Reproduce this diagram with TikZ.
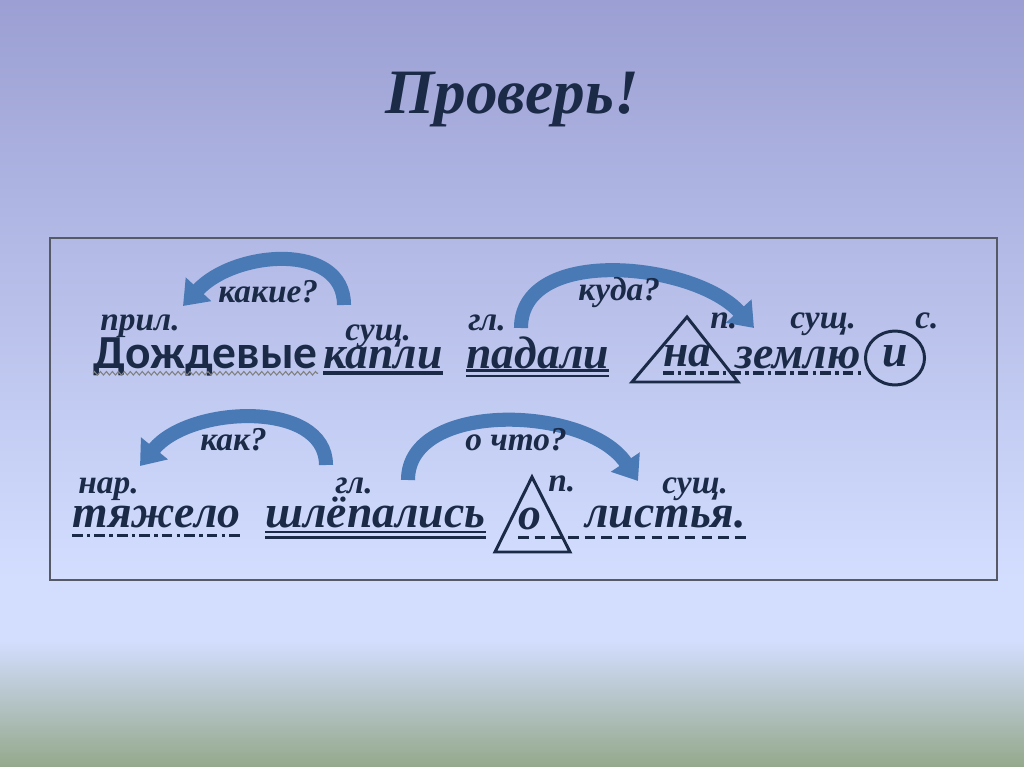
\documentclass[tikz,border=0pt]{standalone}
\usepackage{fontspec}
\setmainfont{Liberation Serif}
\newfontfamily\wordsans{Carlito}
\usepackage{xcolor}
\definecolor{colorInk}{HTML}{1B2A47}
\definecolor{colorArrow}{HTML}{4A7AB5}
\definecolor{colorFrame}{HTML}{555A66}
\definecolor{bgTop}{HTML}{9B9FD3}
\definecolor{bgMid}{HTML}{D3DEFF}
\definecolor{bgLow}{HTML}{94A98B}
\usepackage{tikz}
\usetikzlibrary{arrows.meta, positioning, decorations.pathmorphing}
\tikzset{
  word/.style={font=\fontsize{26}{30}\selectfont\bfseries\itshape, text=colorInk, inner sep=0pt, anchor=base west},
  part/.style={font=\fontsize{19}{22}\selectfont\bfseries\itshape, text=colorInk, inner sep=0pt, anchor=base west},
  quest/.style={part},
  bendArrow/.style={draw=colorArrow, line width=8pt, -{Triangle[width=19pt, length=13pt]}},
  lineSolid/.style={draw=colorInk, line width=2.2pt},
  lineDouble/.style={draw=colorInk, line width=1.3pt},
  lineDashDot/.style={draw=colorInk, line width=1.8pt, dash pattern=on 6pt off 2.5pt on 1.8pt off 2.5pt},
  lineDash/.style={draw=colorInk, line width=1.8pt, dash pattern=on 6pt off 3.5pt},
  lineWavy/.style={draw=gray, line width=0.6pt, decorate, decoration={zigzag, amplitude=1pt, segment length=3.4pt}},
  markLine/.style={draw=colorInk, line width=1.7pt}
}

\begin{document}
\begin{tikzpicture}[x=0.02cm, y=0.02cm]
\useasboundingbox (0,0) rectangle (1024,-767);
\shade[top color=bgTop, bottom color=bgMid] (0,0) rectangle (1024,-580);
\fill[bgMid] (0,-580) rectangle (1024,-640);
\shade[top color=bgMid, bottom color=bgLow] (0,-640) rectangle (1024,-767);
\draw[colorFrame, line width=1.1pt] (50,-238) rectangle (997,-580);
\node[font=\fontsize{36}{40}\selectfont\bfseries\itshape, text=colorInk] (title) at (512,-100) {Проверь!};

\coordinate (a1s) at (344,-305);
\coordinate (a1e) at (183,-306);
\coordinate (a2s) at (521,-328);
\coordinate (a2e) at (754,-328);
\coordinate (a3s) at (326,-465);
\coordinate (a3e) at (140,-466);
\coordinate (a4s) at (408,-480);
\coordinate (a4e) at (638,-481);
\draw[bendArrow] (a1s) .. controls (344,-242) and (235,-250) .. (a1e);
\draw[bendArrow] (a2s) .. controls (521,-245) and (694,-262) .. (a2e);
\draw[bendArrow] (a3s) .. controls (326,-400) and (190,-405) .. (a3e);
\draw[bendArrow] (a4s) .. controls (408,-400) and (587,-405) .. (a4e);

\node[word, font=\fontsize{27}{30}\selectfont\wordsans\bfseries] (w1) at (93,-368) {Дождевые};
\node[word] (w2) at (323,-368) {капли};
\node[word] (w3) at (466,-368) {падали};
\node[word] (w4) at (663,-366) {на};
\node[word] (w5) at (735,-368) {землю};
\node[word, anchor=base] (w6) at (895,-366) {и};
\node[part] (p1) at (100,-330) {прил.};
\node[part] (p2) at (345,-340) {сущ.};
\node[part] (p3) at (468,-330) {гл.};
\node[part] (p4) at (710,-328) {п.};
\node[part] (p5) at (790,-328) {сущ.};
\node[part] (p6) at (915,-328) {с.};
\node[quest] (q1) at (218,-302) {какие?};
\node[quest] (q2) at (578,-300) {куда?};

\node[word] (v1) at (72,-527) {тяжело};
\node[word] (v2) at (265,-527) {шлёпались};
\node[word] (v3) at (518,-529) {о};
\node[word] (v4) at (585,-527) {листья.};
\node[part] (r1) at (78,-493) {нар.};
\node[part] (r2) at (335,-493) {гл.};
\node[part] (r3) at (548,-491) {п.};
\node[part] (r4) at (662,-493) {сущ.};
\node[quest] (q3) at (200,-450) {как?};
\node[quest] (q4) at (465,-450) {о что?};

\draw[lineWavy] ([yshift=-3pt]w1.base west) -- ([yshift=-3pt]w1.base east);
\draw[lineSolid] ([yshift=-3pt]w2.base west) -- ([yshift=-3pt]w2.base east);
\draw[lineDouble] ([yshift=-1.5pt]w3.base west) -- ([yshift=-1.5pt]w3.base east);
\draw[lineDouble] ([yshift=-4.5pt]w3.base west) -- ([yshift=-4.5pt]w3.base east);
\draw[lineDashDot] ([yshift=-4pt]w4.base west) -- ([yshift=-4pt]w4.base west -| w5.base east);
\draw[lineDashDot] ([yshift=-5pt]v1.base west) -- ([yshift=-5pt]v1.base east);
\draw[lineDouble] ([yshift=-3pt]v2.base west) -- ([yshift=-3pt]v2.base east);
\draw[lineDouble] ([yshift=-6pt]v2.base west) -- ([yshift=-6pt]v2.base east);
\draw[lineDash] ([yshift=-5pt]v3.base west) -- ([yshift=-5pt]v3.base west -| v4.base east);

\draw[markLine] (687,-317) -- (738,-382) -- (632,-382) -- cycle;
\draw[markLine] (532,-477) -- (570,-552) -- (495,-552) -- cycle;
\draw[markLine] (895,-358) circle[x radius=16.8pt, y radius=15.3pt];
\end{tikzpicture}
\end{document}
